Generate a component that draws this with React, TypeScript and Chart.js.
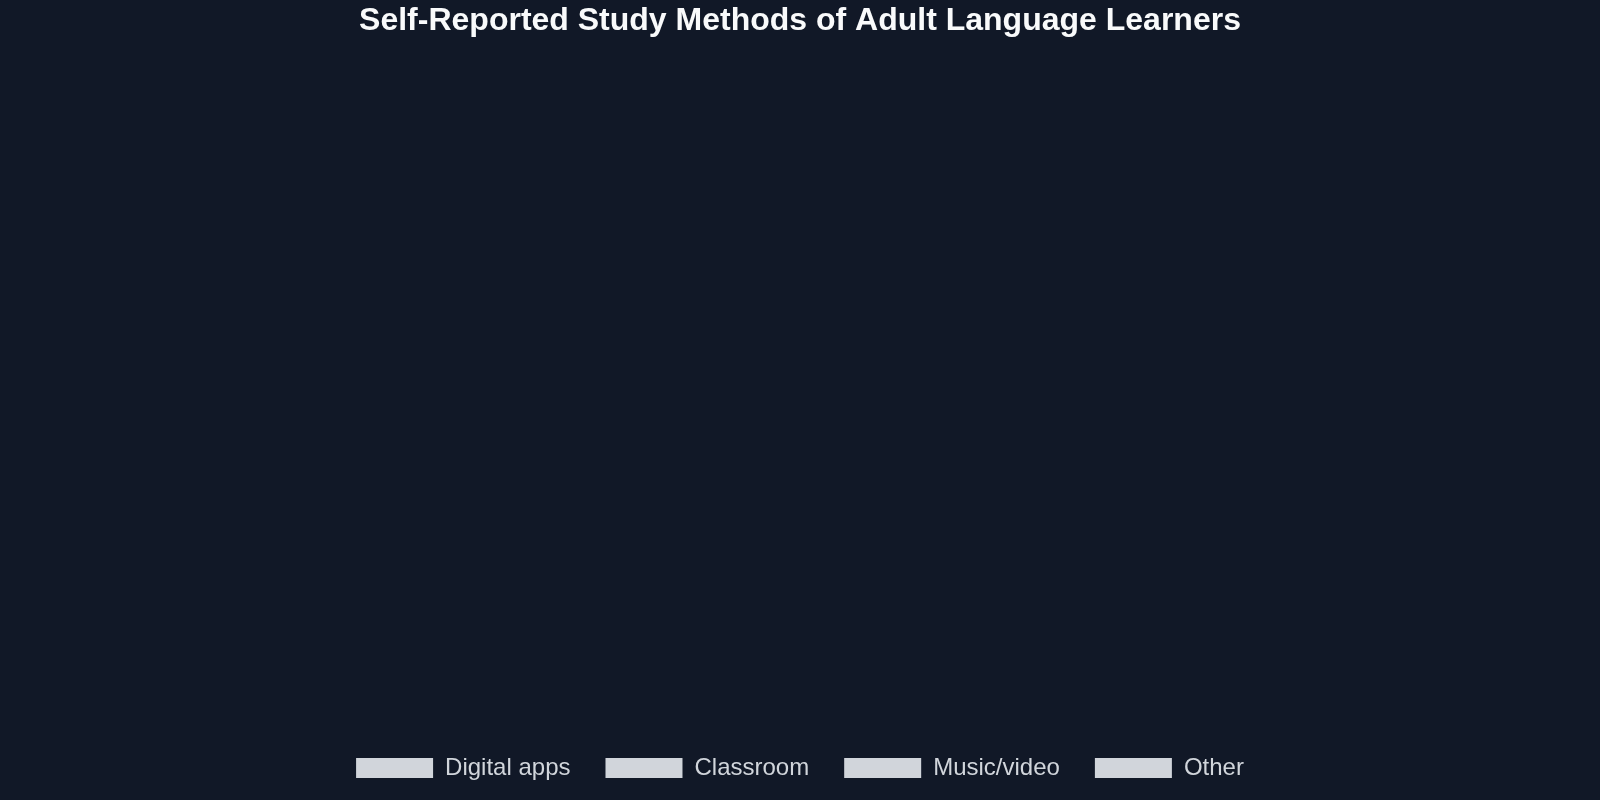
import React, { useEffect, useRef } from "react";
import { Chart, registerables } from "chart.js";

Chart.register(...registerables);

const TITLE = "Self-Reported Study Methods of Adult Language Learners";
const methodLabels: string[] = ["Digital apps", "Classroom", "Music/video", "Other"];
// No slices are visible in the reference, so no values can be read off it.
const methodShares: number[] = [];

const BG = "#111827";

export default function App() {
  const canvasRef = useRef<HTMLCanvasElement | null>(null);

  useEffect(() => {
    document.body.style.margin = "0";
    document.body.style.background = BG;
    const canvas = canvasRef.current;
    if (!canvas) return;
    const chart = new Chart(canvas, {
      type: "doughnut",
      data: {
        labels: methodLabels,
        datasets: [
          {
            data: methodShares,
            backgroundColor: "#d1d5db",
            borderColor: "#d1d5db",
            borderWidth: 0,
          },
        ],
      },
      options: {
        animation: false,
        responsive: true,
        maintainAspectRatio: false,
        layout: { padding: { top: 0, bottom: 10, left: 0, right: 0 } },
        plugins: {
          title: {
            display: true,
            text: TITLE,
            color: "#f9fafb",
            font: { family: "'Liberation Sans', Arial, sans-serif", size: 32, weight: "bold" },
            padding: { top: 2, bottom: 10 },
          },
          legend: {
            display: true,
            position: "bottom",
            labels: {
              color: "#d1d5db",
              font: { family: "'Liberation Sans', Arial, sans-serif", size: 24 },
              boxWidth: 77,
              boxHeight: 20,
              padding: 35,
            },
          },
          tooltip: { enabled: false },
        },
      },
    });
    return () => chart.destroy();
  }, []);

  return (
    <div style={{ width: 1600, height: 800, background: BG, position: "relative" }}>
      <canvas ref={canvasRef} />
    </div>
  );
}
